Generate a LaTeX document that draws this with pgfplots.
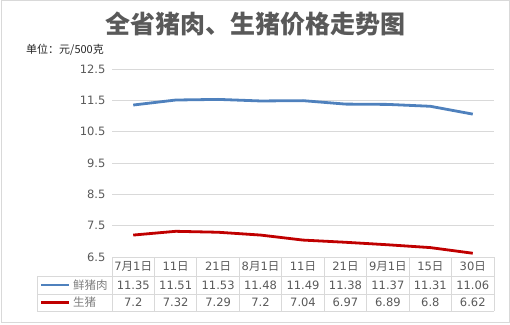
\documentclass[border=0pt]{standalone}
\usepackage{pgfplots}
\pgfplotsset{compat=1.18}
\usepackage{fontspec}
\setmainfont{DejaVu Sans}
\newfontfamily\cjk{Noto Sans CJK SC}
\definecolor{txt}{HTML}{595959}
\definecolor{lbl}{HTML}{7F7F7F}
\definecolor{grd}{HTML}{D9D9D9}
\definecolor{blu}{HTML}{4F81BD}
\definecolor{rd}{HTML}{C00000}
\begin{document}
\begin{tikzpicture}[x=1pt,y=1pt]
\useasboundingbox (0,0) rectangle (510,324);
\draw[grd, line width=1pt] (1,2) rectangle (509,323);
\node[text=txt, font=\cjk\bfseries\fontsize{25}{30}\selectfont] at (255,300) {全省猪肉、生猪价格走势图};
\node[anchor=west, font=\cjk\fontsize{11}{13}\selectfont, text=black!85, inner sep=0pt] at (26,274) {单位：元/500克};
\begin{axis}[at={(112pt,67pt)}, anchor=south west, scale only axis,
  width=382pt, height=188pt,
  xmin=-0.5, xmax=8.5, ymin=6.5, ymax=12.5,
  ytick={6.5,7.5,8.5,9.5,10.5,11.5,12.5}, xtick=\empty,
  axis line style={draw=none}, major tick length=0pt,
  ymajorgrids, grid style={grd, line width=0.8pt},
  yticklabel style={text=txt, font=\fontsize{11.5}{13}\selectfont, xshift=-3pt,
    /pgf/number format/.cd, fixed, fixed zerofill, precision=1, assume math mode=true},
  clip=false]
\addplot[blu, line width=2.8pt, line join=round] coordinates {
(0,11.35) (1,11.51) (2,11.53) (3,11.48) (4,11.49) (5,11.38) (6,11.37) (7,11.31) (8,11.06)};
\addplot[rd, line width=2.8pt, line join=round] coordinates {
(0,7.2) (1,7.32) (2,7.29) (3,7.2) (4,7.04) (5,6.97) (6,6.89) (7,6.8) (8,6.62)};
\end{axis}
% data table
\draw[grd, line width=0.8pt] (112,67) -- (494,67);
\draw[grd, line width=0.8pt] (37,48) -- (494,48);
\draw[grd, line width=0.8pt] (37,30) -- (494,30);
\draw[grd, line width=0.8pt] (37,13) -- (494,13);
\draw[grd, line width=0.8pt] (37,48) -- (37,13);
\foreach \i in {0,...,9} {\draw[grd, line width=0.8pt] ({112+42.444*\i},67) -- ({112+42.444*\i},13);}
\foreach \t [count=\i from 0] in {7{\cjk 月}1{\cjk 日},11{\cjk 日},21{\cjk 日},8{\cjk 月}1{\cjk 日},11{\cjk 日},21{\cjk 日},9{\cjk 月}1{\cjk 日},15{\cjk 日},30{\cjk 日}}
  {\node[text=txt, font=\fontsize{11.5}{13}\selectfont] at ({133.22+42.444*\i},57.5) {\t};}
\foreach \t [count=\i from 0] in {11.35,11.51,11.53,11.48,11.49,11.38,11.37,11.31,11.06}
  {\node[text=txt, font=\fontsize{11.5}{13}\selectfont] at ({133.22+42.444*\i},39) {\t};}
\foreach \t [count=\i from 0] in {7.2,7.32,7.29,7.2,7.04,6.97,6.89,6.8,6.62}
  {\node[text=txt, font=\fontsize{11.5}{13}\selectfont] at ({133.22+42.444*\i},21.5) {\t};}
\draw[blu, line width=2.8pt] (41,39) -- (69,39);
\draw[rd, line width=2.8pt] (41,21.5) -- (69,21.5);
\node[anchor=west, inner sep=0pt, text=lbl, font=\cjk\fontsize{11.5}{13}\selectfont] at (73,39) {鲜猪肉};
\node[anchor=west, inner sep=0pt, text=lbl, font=\cjk\fontsize{11.5}{13}\selectfont] at (73,21.5) {生猪};
\end{tikzpicture}
\end{document}
